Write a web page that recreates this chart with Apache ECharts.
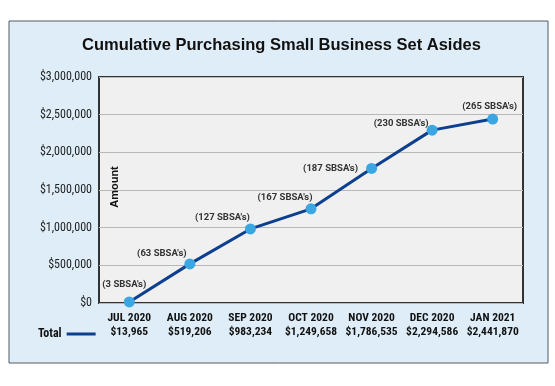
<!DOCTYPE html>
<html><head><meta charset="utf-8">
<script src="https://cdn.jsdelivr.net/npm/echarts@6/dist/echarts.min.js"></script>
<style>html,body{margin:0;padding:0;background:#fff}#c{width:555px;height:386px}</style>
</head><body><div id="c"></div>
<script>
var months = ['JUL 2020','AUG 2020','SEP 2020','OCT 2020','NOV 2020','DEC 2020','JAN 2021'];
var totals = [13965, 519206, 983234, 1249658, 1786535, 2294586, 2441870];
var sbsaCounts = [3, 63, 127, 167, 187, 230, 265];
var yTicks = [0, 500000, 1000000, 1500000, 2000000, 2500000, 3000000];

// label placement (style only)
var labelOffsets = [[-5,-17],[-28,-10],[-28,-11],[-26,-11],[-41,0],[-31,-7],[-3,-12]];

function money(v){ return '$' + v.toLocaleString('en-US'); }

var COND = 'Roboto, "Open Sans", sans-serif';

var chart = echarts.init(document.getElementById('c'), null, {renderer:'canvas'});
chart.setOption({
  animation: false,
  backgroundColor: '#ffffff',
  graphic: [
    {type:'rect', z:-10, shape:{x:9, y:21, width:539, height:342},
     style:{fill:'#deedf7', stroke:'#555a60', lineWidth:1}},
    {type:'text', x:115, y:187, rotation: Math.PI/2, z: 10,
     style:{text:'Amount', font:'bold 11px "Liberation Sans", Arial, sans-serif', fill:'#111',
            align:'center', verticalAlign:'middle'}}
  ],
  title: {
    text: 'Cumulative Purchasing Small Business Set Asides',
    left: 82, top: 37, padding: 0,
    textStyle: {fontFamily:'"Liberation Sans", Arial, sans-serif', fontWeight:'bold', fontSize:16.5, color:'#111'}
  },
  legend: {
    data: [{name:'Total', itemStyle:{color:'#0d3f8f'}}], left: 33, top: 323, align: 'right',
    icon: 'rect', itemWidth: 29, itemHeight: 3,
    textStyle: {fontFamily: COND, fontStyle:'condensed', fontWeight:'bold', fontSize:12, color:'#111'}
  },
  grid: {left: 99, top: 77, right: 32, bottom: 83, show: true,
         backgroundColor: '#f0f0f0', borderColor: '#333', borderWidth: 2},
  xAxis: {
    type: 'category', data: months, boundaryGap: true,
    axisLine: {show:false}, axisTick: {show:false},
    axisLabel: {
      margin: 8, interval: 0, lineHeight: 14,
      fontFamily: COND, fontStyle:'condensed', fontWeight:'bold', fontSize:11.5, color:'#111',
      formatter: function(v, i){ return v + '\n' + money(totals[i]); }
    }
  },
  yAxis: {
    type: 'value', min: 0, max: 3000000, interval: 500000,
    axisLine: {show:false}, axisTick: {show:false},
    splitLine: {lineStyle: {color:'#b8b8b8', width:1}},
    axisLabel: {
      margin: 7, fontFamily: COND, fontStyle:'condensed', fontSize: 12, color:'#222',
      formatter: function(v){ return yTicks.indexOf(v) >= 0 ? money(v) : ''; }
    }
  },
  series: [{
    name: 'Total', type: 'line',
    data: totals.map(function(v, i){
      return {value: v, label: {offset: labelOffsets[i]}};
    }),
    symbol: 'circle', symbolSize: 11,
    lineStyle: {color:'#0d3f8f', width:3},
    itemStyle: {color:'#3aa6e2', borderWidth:0},
    label: {
      show: true, position: 'inside', align: 'center', verticalAlign: 'middle',
      fontFamily: COND, fontWeight: 'bold', fontSize: 9.5, color:'#333',
      formatter: function(p){ return '(' + sbsaCounts[p.dataIndex] + " SBSA's)"; }
    }
  }]
});
</script></body></html>
